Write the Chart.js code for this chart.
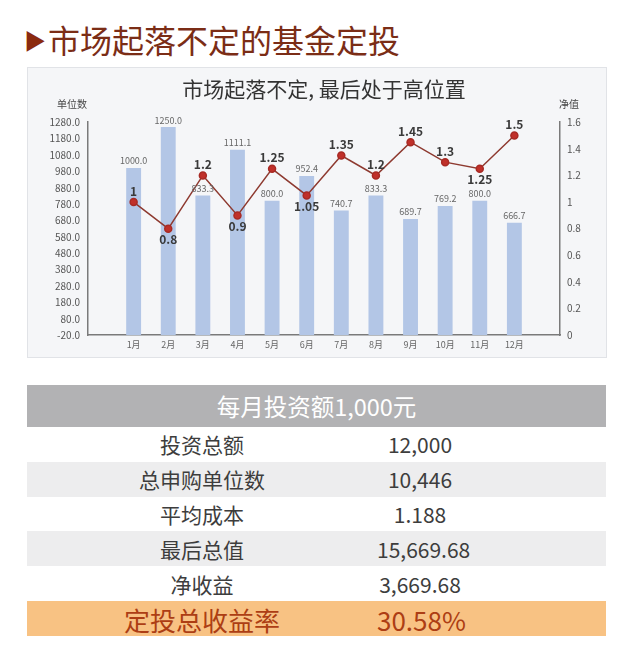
<!DOCTYPE html>
<html>
<head>
<meta charset="utf-8">
<script src="https://cdn.jsdelivr.net/npm/chart.js@4"></script>
<style>
    body { margin: 0; background: #fff; font-family: "Noto Sans CJK SC", sans-serif; }
    .page { position: relative; width: 640px; height: 663px; }
    .head { position: absolute; left: 24px; top: 16px; font-size: 32px; color: #7b2d16; }
    .head .tri { font-size: 22px; color: #8a2a10; position: relative; top: -4px; margin-right: 2px; }
    .panel { position: absolute; left: 27px; top: 67px; width: 578px; height: 289px;
             background: #f5f6f8; border: 1px solid #e1e3e7; }
    .panel canvas { display: block; }
    .tbl { position: absolute; left: 27px; top: 385px; width: 579px; }
    .row { display: grid; grid-template-columns: 350px 86px 1fr; height: 34.8px; align-items: center;
           font-size: 21px; color: #3d3d3d; }
    .row span { text-align: center; white-space: nowrap; }
    .row.hd { display: block; height: 42px; line-height: 42px; text-align: center; background: #b2b2b4;
              color: #fff; font-size: 23.5px; }
    .row.gray { background: #ededee; }
    .row.hl { background: #f8c283; color: #ad3e14; font-size: 26px; }
</style>
</head>
<body>
<div class="page">
    <div class="head"><span class="tri">▶</span>市场起落不定的基金定投</div>
    <div class="panel"><canvas id="fundChart" width="578" height="289"></canvas></div>
    <div class="tbl" id="summary"></div>
</div>
<script>
// Данные графика
const months = ['1月', '2月', '3月', '4月', '5月', '6月', '7月', '8月', '9月', '10月', '11月', '12月'];
const units = [1000.0, 1250.0, 833.3, 1111.1, 800.0, 952.4, 740.7, 833.3, 689.7, 769.2, 800.0, 666.7];
const nav = [1, 0.8, 1.2, 0.9, 1.25, 1.05, 1.35, 1.2, 1.45, 1.3, 1.25, 1.5];
const unitTicks = [-20, 1280, 100];   // min, max, шаг
const navTicks = [0, 1.6, 0.2];

// Таблица итогов
const summaryTitle = '每月投资额1,000元';
const summaryLabels = ['投资总额', '总申购单位数', '平均成本', '最后总值', '净收益', '定投总收益率'];
const summaryValues = ['12,000', '10,446', '1.188', '15,669.68', '3,669.68', '30.58%'];

// Где подписывать точки линии: над или под точкой
const navLabelPos = ['top', 'bottom', 'top', 'bottom', 'top', 'bottom', 'top', 'top', 'top', 'top', 'bottom', 'top'];

const FONT = '"Noto Sans CJK SC", sans-serif';

// Строим таблицу
function buildSummary() {
    const box = document.getElementById('summary');
    let html = '<div class="row hd">' + summaryTitle + '</div>';
    summaryLabels.forEach(function(label, i) {
        let cls = 'row';
        if (i === summaryLabels.length - 1) cls += ' hl';
        else if (i % 2 === 1) cls += ' gray';
        html += '<div class="' + cls + '"><span>' + label + '</span><span>' + summaryValues[i] + '</span><span></span></div>';
    });
    box.innerHTML = html;
}

// Подписи значений и заголовки осей
const labelsPlugin = {
    id: 'valueLabels',
    afterDatasetsDraw(chart) {
        const ctx = chart.ctx;
        ctx.save();
        ctx.textAlign = 'center';
        ctx.textBaseline = 'middle';

        // подписи столбцов
        ctx.font = '9px ' + FONT;
        ctx.fillStyle = '#666';
        chart.getDatasetMeta(0).data.forEach(function(bar, i) {
            ctx.fillText(units[i].toFixed(1), bar.x, bar.y - 7);
        });

        // подписи точек
        ctx.font = 'bold 12px ' + FONT;
        ctx.fillStyle = '#3a3a3a';
        chart.getDatasetMeta(1).data.forEach(function(pt, i) {
            const dy = navLabelPos[i] === 'top' ? -11 : 11;
            ctx.fillText(String(nav[i]), pt.x, pt.y + dy);
        });

        // заголовки осей
        const area = chart.chartArea;
        ctx.font = '10px ' + FONT;
        ctx.fillStyle = '#444';
        ctx.fillText('单位数', area.left - 16, area.top - 18);
        ctx.fillText('净值', area.right + 9, area.top - 18);
        ctx.restore();
    }
};

function drawChart() {
    const ctx = document.getElementById('fundChart').getContext('2d');
    new Chart(ctx, {
        data: {
            datasets: [{
                type: 'bar',
                data: units.map((v, i) => ({ x: i + 1, y: v })),
                yAxisID: 'yUnits',
                backgroundColor: '#b3c6e6',
                base: unitTicks[0],
                categoryPercentage: 1,
                barPercentage: 0.43,
                order: 2
            }, {
                type: 'line',
                data: nav.map((v, i) => ({ x: i + 1, y: v })),
                yAxisID: 'yNav',
                borderColor: '#8e3a30',
                borderWidth: 1.5,
                pointBackgroundColor: '#c0302a',
                pointBorderColor: '#a82a24',
                pointRadius: 3.5,
                tension: 0,
                order: 1
            }]
        },
        options: {
            responsive: false,
            animation: false,
            layout: { padding: { bottom: 3 } },
            plugins: {
                legend: { display: false },
                tooltip: { enabled: false },
                title: {
                    display: true,
                    fullSize: false,
                    text: '市场起落不定, 最后处于高位置',
                    color: '#333',
                    font: { family: FONT, size: 21, weight: 'normal' },
                    padding: { top: 8, bottom: 21 }
                }
            },
            scales: {
                x: {
                    type: 'linear',
                    min: 0.25,
                    max: 12.75,
                    afterBuildTicks: axis => { axis.ticks = months.map((m, i) => ({ value: i + 1 })); },
                    grid: { display: false, drawTicks: false },
                    border: { display: true, color: '#7a7a7a', width: 1.5 },
                    ticks: {
                        padding: 4,
                        autoSkip: false,
                        maxRotation: 0,
                        color: '#666',
                        font: { family: FONT, size: 9 },
                        callback: v => months[v - 1]
                    }
                },
                yUnits: {
                    position: 'left',
                    min: unitTicks[0],
                    max: unitTicks[1],
                    afterFit: scale => { scale.width = 60; },
                    grid: { display: false, drawTicks: false },
                    border: { display: true, color: '#7a7a7a', width: 1.5 },
                    ticks: {
                        stepSize: unitTicks[2],
                        autoSkip: false,
                        padding: 8,
                        color: '#555',
                        font: { family: FONT, size: 10 },
                        callback: v => v.toFixed(1)
                    }
                },
                yNav: {
                    position: 'right',
                    min: navTicks[0],
                    max: navTicks[1],
                    afterFit: scale => { scale.width = 46; },
                    grid: { display: false, drawTicks: false },
                    border: { display: true, color: '#7a7a7a', width: 1.5 },
                    ticks: {
                        stepSize: navTicks[2],
                        autoSkip: false,
                        padding: 7,
                        color: '#555',
                        font: { family: FONT, size: 10 },
                        callback: v => String(+v.toFixed(1))
                    }
                }
            }
        },
        plugins: [labelsPlugin]
    });
}

buildSummary();
drawChart();
</script>
</body>
</html>
